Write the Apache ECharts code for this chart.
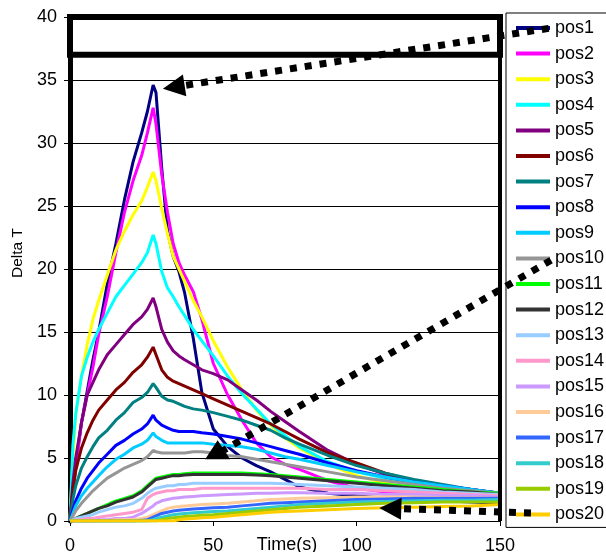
<!DOCTYPE html>
<html><head><meta charset="utf-8">
<script src="https://cdn.jsdelivr.net/npm/echarts@6/dist/echarts.min.js"></script>
<style>html,body{margin:0;padding:0;background:#fff}#c{width:606px;height:552px}</style>
</head><body><div id="c"></div>
<script>
const T = [0,1,2,4,6,8,10,13,16,19,22,25,27,29,30,32,34,36,38,40,43,46,50,55,60,65,70,75,80,90,100,110,120,130,140,150];
const names = ['pos1','pos2','pos3','pos4','pos5','pos6','pos7','pos8','pos9','pos10','pos11','pos12','pos13','pos14','pos15','pos16','pos17','pos18','pos19','pos20'];
const colors = ['#000080','#FF00FF','#FFFF00','#00FFFF','#800080','#800000','#008080','#0000FF','#00CCFF','#969696','#00FF00','#333333','#99CCFF','#FF99CC','#CC99FF','#FFCC99','#3366FF','#33CCCC','#99CC00','#FFCC00'];
const pos1 = [0,2.5,4.5,7.8,10.3,12.8,15,18.8,22,25.5,28.5,30.8,32.5,34.6,34,28,23,21,19.8,18.1,14.5,10.2,7.3,5.9,5.0,4.4,3.9,3.3,2.7,2.2,2.0,1.8,1.7,1.6,1.5,1.4];
const pos2 = [0,2.3,4.2,7.8,10,12.2,14.8,17.8,21.3,24.5,27,29,30.8,32.8,31.5,27.5,24.5,22,20.5,19.5,18.2,16,12.5,10,8,6.2,5.1,4.5,4.1,3.2,2.6,2.3,2.1,2.0,1.9,1.9];
const pos3 = [0,5,8.5,11.5,14,16,17.5,19.5,21.5,23,24.3,25.4,26.5,27.7,27,24.8,22.8,21,20,19,17.5,16.2,14.3,12.2,10.4,8.8,7.6,6.6,5.8,4.5,3.6,3.0,2.6,2.3,2.1,1.9];
const pos4 = [0,6,8.5,11.5,13,14.2,15.2,16.5,17.8,18.7,19.6,20.5,21.3,22.7,22,19.8,18.5,17.8,17,16.3,15.2,14.3,13.1,11.5,10.1,8.9,7.7,6.8,5.9,4.7,3.9,3.4,3.0,2.7,2.4,2.1];
const pos5 = [0,3,5,7.8,10,11,12,13.2,14,14.8,15.6,16.2,16.8,17.7,17,15.2,14.2,13.5,13.1,12.8,12.4,12,11.7,11.2,10.4,9.6,8.7,7.9,7.1,5.6,4.5,3.7,3.1,2.8,2.5,2.2];
const pos6 = [0,2.5,4,5.8,7,8,8.8,9.6,10.4,11,11.8,12.4,13,13.8,13.2,12,11.4,11.1,10.9,10.7,10.4,10.1,9.7,9.2,8.7,8.2,7.7,7.1,6.5,5.4,4.6,3.8,3.2,2.8,2.4,2.2];
const pos7 = [0,1.7,2.8,4.2,5.1,5.9,6.6,7.2,8,8.6,9.4,9.8,10.2,10.9,10.6,9.9,9.6,9.5,9.3,9.1,8.9,8.8,8.6,8.3,8.0,7.6,7.2,6.6,6.1,5.2,4.4,3.8,3.3,2.9,2.5,2.2];
const pos8 = [0,0.9,1.6,2.6,3.4,4,4.6,5.3,6,6.4,6.9,7.3,7.7,8.4,8,7.6,7.4,7.2,7.1,7.1,7.1,7.0,6.9,6.7,6.5,6.2,5.9,5.6,5.3,4.6,4.0,3.5,3.1,2.8,2.5,2.2];
const pos9 = [0,0.6,1.2,2,2.6,3.1,3.6,4.3,4.9,5.3,5.8,6.1,6.4,7.0,6.7,6.4,6.2,6.2,6.2,6.2,6.2,6.2,6.1,6.0,5.9,5.7,5.4,5.1,4.9,4.4,3.9,3.5,3.1,2.8,2.5,2.2];
const pos10 = [0,0.4,0.8,1.4,1.9,2.4,2.8,3.4,3.8,4.2,4.5,4.8,5.1,5.6,5.5,5.4,5.4,5.4,5.4,5.4,5.5,5.5,5.4,5.2,5.1,4.9,4.7,4.5,4.3,3.9,3.5,3.2,2.9,2.6,2.4,2.2];
const pos11 = [0,0.1,0.2,0.4,0.6,0.8,1.0,1.3,1.6,1.8,2.0,2.4,2.8,3.2,3.4,3.5,3.6,3.7,3.7,3.75,3.8,3.8,3.8,3.8,3.8,3.75,3.7,3.6,3.5,3.3,3.1,2.9,2.7,2.5,2.3,2.2];
const pos12 = [0,0.1,0.2,0.4,0.6,0.8,1.0,1.2,1.5,1.7,1.9,2.3,2.7,3.1,3.3,3.4,3.5,3.6,3.6,3.65,3.7,3.7,3.7,3.7,3.7,3.65,3.6,3.5,3.4,3.2,3.0,2.8,2.6,2.4,2.3,2.1];
const pos13 = [0,0.1,0.2,0.3,0.4,0.5,0.7,0.9,1.1,1.2,1.4,1.8,2.2,2.5,2.6,2.7,2.8,2.8,2.9,2.9,3.0,3.0,3.0,3.0,3.0,3.0,3.0,2.95,2.9,2.8,2.7,2.6,2.5,2.3,2.2,2.1];
const pos14 = [0,0,0.1,0.1,0.2,0.2,0.3,0.4,0.5,0.6,0.7,0.9,1.8,2.1,2.2,2.3,2.4,2.4,2.5,2.5,2.5,2.6,2.6,2.6,2.6,2.6,2.6,2.6,2.6,2.5,2.5,2.4,2.3,2.2,2.1,2.0];
const pos15 = [0,0,0,0,0,0,0.1,0.1,0.2,0.2,0.3,0.6,0.9,1.2,1.4,1.6,1.7,1.8,1.85,1.9,1.95,2.0,2.05,2.1,2.15,2.2,2.2,2.25,2.25,2.2,2.2,2.1,2.1,2.0,2.0,1.9];
const pos16 = [0,0,0,0,0,0,0,0,0.1,0.1,0.1,0.2,0.3,0.5,0.6,0.8,1.0,1.1,1.15,1.2,1.25,1.3,1.35,1.4,1.5,1.6,1.7,1.75,1.8,1.85,1.9,1.9,1.9,1.85,1.85,1.8];
const pos17 = [0,0,0,0,0,0,0,0,0,0,0,0.05,0.1,0.3,0.4,0.6,0.7,0.8,0.85,0.9,0.95,1.0,1.05,1.1,1.2,1.3,1.4,1.45,1.5,1.6,1.7,1.75,1.8,1.8,1.8,1.8];
const pos18 = [0,0,0,0,0,0,0,0,0,0,0,0,0,0.1,0.2,0.3,0.4,0.5,0.55,0.6,0.65,0.7,0.75,0.8,0.9,1.0,1.1,1.2,1.3,1.4,1.5,1.55,1.6,1.65,1.65,1.7];
const pos19 = [0,0,0,0,0,0,0,0,0,0,0,0,0,0,0,0.1,0.2,0.25,0.3,0.35,0.4,0.45,0.5,0.6,0.7,0.8,0.9,1.0,1.1,1.2,1.3,1.4,1.45,1.5,1.5,1.5];
const pos20 = [0,0,0,0,0,0,0,0,0,0,0,0,0,0,0,0,0,0,0.1,0.15,0.2,0.25,0.3,0.4,0.5,0.6,0.7,0.75,0.8,0.9,1.0,1.05,1.1,1.15,1.2,1.3];
const seriesValues = [pos1,pos2,pos3,pos4,pos5,pos6,pos7,pos8,pos9,pos10,pos11,pos12,pos13,pos14,pos15,pos16,pos17,pos18,pos19,pos20];
const xTicks = [0,50,100,150];
const yTicks = [0,5,10,15,20,25,30,35,40];

// annotation arrows (data units): tail, tip
const arrowTails = [[167,39.1],[167.8,20.7],[160.8,0.63]];
const arrowTips = [[32.4,34.3],[51.5,6.4],[107.9,1.03]];
const headUp = [false,true,false];
// highlighted top band (data units)
const boxCorners = [[0,40],[150,37]];

const FONT = 'Liberation Sans, Arial, sans-serif';
const chart = echarts.init(document.getElementById('c'), null, {renderer:'canvas'});
chart.setOption({
  animation:false,
  backgroundColor:'#fff',
  grid:{left:70,right:106,top:17,bottom:31,containLabel:false,outerBoundsMode:'none'},
  xAxis:{type:'value',min:xTicks[0],max:xTicks[xTicks.length-1],interval:50,
    axisLine:{lineStyle:{color:'#000',width:1}},
    axisTick:{show:true,length:5,lineStyle:{color:'#000',width:1}},
    axisLabel:{fontSize:18,color:'#000',margin:16.5,fontFamily:FONT},
    splitLine:{show:false}},
  yAxis:{type:'value',min:yTicks[0],max:yTicks[yTicks.length-1],interval:5,
    axisLine:{show:true,lineStyle:{color:'#000',width:5}},
    axisTick:{show:true,length:6,lineStyle:{color:'#000',width:1}},
    axisLabel:{fontSize:18,color:'#000',margin:13,fontFamily:FONT},
    splitLine:{show:true,lineStyle:{color:'#000',width:1}}},
  legend:{orient:'vertical',left:506,top:13,padding:[6,40,4,10],
    itemGap:7.6,itemWidth:34,itemHeight:4,icon:'rect',
    borderColor:'#000',borderWidth:1,
    textStyle:{fontSize:18,color:'#000',fontFamily:FONT,lineHeight:18},
    data:names},
  series:names.map((n,i)=>({name:n,type:'line',symbol:'none',
    data:T.map((t,j)=>[t,seriesValues[i][j]]),
    lineStyle:{width:3,color:colors[i]},itemStyle:{color:colors[i]}}))
});

const px = (d)=>chart.convertToPixel({gridIndex:0},d);
const g = [];
const b0 = px(boxCorners[0]), b1 = px(boxCorners[1]);
g.push({type:'rect',shape:{x:b0[0],y:b0[1],width:b1[0]-b0[0],height:b1[1]-b0[1]},
  style:{fill:'none',stroke:'#000',lineWidth:6},z:50});
const r0 = px([150,40]), r1 = px([150,0]);
g.push({type:'line',shape:{x1:r0[0],y1:r0[1]-2,x2:r1[0],y2:r1[1]},style:{stroke:'#000',lineWidth:4},z:50});
g.push({type:'text',x:18,y:253,rotation:Math.PI/2,
  style:{text:'Delta T',fontSize:15.5,fontFamily:FONT,fill:'#000',align:'center',verticalAlign:'middle'},z:50});
const xm = px([75,0]);
g.push({type:'text',x:xm[0]+2,y:xm[1]+24,
  style:{text:'Time(s)',fontSize:18,fontFamily:FONT,fill:'#000',align:'center',verticalAlign:'middle'},z:50});
for(let i=0;i<arrowTails.length;i++){
  const a = px(arrowTails[i]), b = px(arrowTips[i]);
  let dx=b[0]-a[0], dy=b[1]-a[1]; let L=Math.hypot(dx,dy); dx/=L; dy/=L;
  let hl=22, hw=11;
  if(headUp[i]){dx=0;dy=-1;hl=19;hw=12.5;}
  const bc=[b[0]-dx*hl,b[1]-dy*hl];
  const p1=[bc[0]-dy*hw,bc[1]+dx*hw], p2=[bc[0]+dy*hw,bc[1]-dx*hw];
  const endPt = headUp[i] ? [b[0]+4,b[1]+11] : bc;
  g.push({type:'line',shape:{x1:a[0],y1:a[1],x2:endPt[0],y2:endPt[1]},
    style:{stroke:'#000',lineWidth:7,lineDash:[7,8],lineCap:'butt'},z:60});
  g.push({type:'polygon',shape:{points:[b,p1,p2]},style:{fill:'#000'},z:61});
}
chart.setOption({graphic:g});
</script></body></html>
